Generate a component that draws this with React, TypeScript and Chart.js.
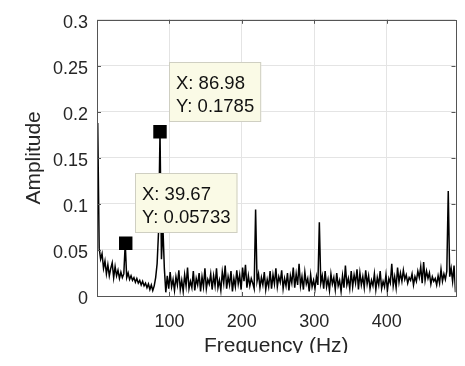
import React, { useEffect, useRef } from "react";
import { Chart, registerables } from "chart.js";

Chart.register(...registerables);

// Frequency grid: first bin and bin spacing (Hz)
const FREQ_START = 1;
const FREQ_STEP = 2;

// Spectrum amplitudes (one per 2 Hz bin, 1..495 Hz)
const AMPLITUDE: number[] = [
  0.188, 0.052, 0.04, 0.046, 0.03, 0.038, 0.024, 0.034, 0.022, 0.03,
  0.036, 0.02, 0.032, 0.022, 0.028, 0.019, 0.026, 0.02, 0.024, 0.05733,
  0.02, 0.025, 0.018, 0.022, 0.017, 0.02, 0.015, 0.019, 0.014, 0.017,
  0.012, 0.016, 0.011, 0.014, 0.009, 0.013, 0.007, 0.012, 0.006, 0.011,
  0.02, 0.035, 0.07, 0.1785, 0.04, 0.075, 0.03, 0.004, 0.022, 0.008,
  0.026, 0.01, 0.018, 0.006, 0.021, 0.012, 0.028, 0.007, 0.017, 0.005,
  0.023, 0.011, 0.031, 0.008, 0.016, 0.009, 0.027, 0.006, 0.019, 0.012,
  0.025, 0.005, 0.021, 0.01, 0.03, 0.008, 0.018, 0.013, 0.024, 0.007,
  0.022, 0.011, 0.03, 0.009, 0.017, 0.006, 0.026, 0.014, 0.033, 0.008,
  0.021, 0.012, 0.027, 0.005, 0.019, 0.01, 0.028, 0.013, 0.023, 0.007,
  0.031, 0.016, 0.034, 0.009, 0.022, 0.011, 0.019, 0.014, 0.008, 0.094,
  0.016, 0.024, 0.009, 0.02, 0.012, 0.026, 0.007, 0.018, 0.01, 0.027,
  0.008, 0.023, 0.013, 0.03, 0.01, 0.021, 0.015, 0.028, 0.008, 0.019,
  0.011, 0.025, 0.006, 0.022, 0.014, 0.031, 0.009, 0.024, 0.012, 0.035,
  0.011, 0.021, 0.007, 0.026, 0.013, 0.019, 0.005, 0.023, 0.01, 0.017,
  0.008, 0.021, 0.012, 0.08, 0.014, 0.022, 0.008, 0.027, 0.01, 0.018,
  0.006, 0.024, 0.013, 0.02, 0.007, 0.025, 0.011, 0.017, 0.005, 0.022,
  0.009, 0.033, 0.012, 0.019, 0.008, 0.027, 0.01, 0.023, 0.014, 0.029,
  0.007, 0.025, 0.012, 0.021, 0.009, 0.028, 0.013, 0.022, 0.008, 0.017,
  0.011, 0.024, 0.007, 0.02, 0.012, 0.027, 0.008, 0.016, 0.01, 0.023,
  0.006, 0.019, 0.014, 0.035, 0.011, 0.021, 0.009, 0.031, 0.015, 0.025,
  0.016, 0.028, 0.018, 0.023, 0.014, 0.02, 0.017, 0.024, 0.012, 0.021,
  0.016, 0.027, 0.02, 0.032, 0.014, 0.037, 0.017, 0.027, 0.019, 0.025,
  0.013, 0.021, 0.016, 0.019, 0.012, 0.022, 0.014, 0.029, 0.016, 0.024,
  0.018, 0.027, 0.114, 0.021, 0.03, 0.016, 0.033, 0.004,
];

// Data tips
const TIP_X: number[] = [86.98, 39.67];
const TIP_Y: number[] = [0.1785, 0.05733];
const TIP_LABEL_X: string[] = ["86.98", "39.67"];
const TIP_LABEL_Y: string[] = ["0.1785", "0.05733"];

const X_TICKS: number[] = [100, 200, 300, 400];
const X_MIN = 0;
const X_MAX = 495;
const Y_MIN = 0;
const Y_MAX = 0.3;
const Y_STEP = 0.05;

const X_TITLE = "Frequency (Hz)";
const Y_TITLE = "Amplitude";

const FONT = "'Liberation Sans', Arial, Helvetica, sans-serif";
const TEXT_COLOR = "#262626";

const decorPlugin = {
  id: "matlabDecor",
  afterDraw(chart: any) {
    const { ctx, chartArea } = chart;
    const xs = chart.scales.x;
    const ys = chart.scales.y;
    const { left, right, top, bottom } = chartArea;
    ctx.save();

    // Axes box
    ctx.strokeStyle = "#555555";
    ctx.lineWidth = 1;
    ctx.strokeRect(Math.round(left) + 0.5, Math.round(top) + 0.5, Math.round(right - left), Math.round(bottom - top));

    // Inward tick marks
    ctx.beginPath();
    const tl = 4;
    for (const v of X_TICKS) {
      const px = Math.round(xs.getPixelForValue(v)) + 0.5;
      ctx.moveTo(px, bottom);
      ctx.lineTo(px, bottom - tl);
      ctx.moveTo(px, top);
      ctx.lineTo(px, top + tl);
    }
    for (let v = Y_MIN + Y_STEP; v < Y_MAX - 1e-9; v += Y_STEP) {
      const py = Math.round(ys.getPixelForValue(v)) + 0.5;
      ctx.moveTo(left, py);
      ctx.lineTo(left + tl, py);
      ctx.moveTo(right, py);
      ctx.lineTo(right - tl, py);
    }
    ctx.stroke();

    // Data tip boxes
    ctx.font = `18.5px ${FONT}`;
    ctx.textBaseline = "middle";
    ctx.textAlign = "left";
    for (let i = 0; i < TIP_X.length; i++) {
      const px = xs.getPixelForValue(TIP_X[i]);
      const py = ys.getPixelForValue(TIP_Y[i]);
      const l1 = `X: ${TIP_LABEL_X[i]}`;
      const l2 = `Y: ${TIP_LABEL_Y[i]}`;
      const w = Math.max(ctx.measureText(l1).width, ctx.measureText(l2).width) + 14;
      const h = 60;
      const bx = Math.round(px + 9);
      const by = Math.round(py - 10 - h);
      ctx.fillStyle = "#fafae6";
      ctx.fillRect(bx, by, w, h);
      ctx.strokeStyle = "#cfcfc2";
      ctx.strokeRect(bx + 0.5, by + 0.5, w - 1, h - 1);
      ctx.fillStyle = "#111111";
      ctx.fillText(l1, bx + 7, by + 21.5);
      ctx.fillText(l2, bx + 7, by + 45);
    }

    // Axis titles
    ctx.fillStyle = TEXT_COLOR;
    ctx.font = `21px ${FONT}`;
    ctx.textAlign = "center";
    ctx.textBaseline = "alphabetic";
    ctx.fillText(X_TITLE, (left + right) / 2, 352);
    ctx.save();
    ctx.translate(40, (top + bottom) / 2);
    ctx.rotate(-Math.PI / 2);
    ctx.textBaseline = "alphabetic";
    ctx.fillText(Y_TITLE, 0, 0);
    ctx.restore();

    // Image is cropped just below the x title baseline
    ctx.fillStyle = "#ffffff";
    ctx.fillRect(0, 353, chart.width, chart.height - 353);
    ctx.restore();
  },
};

export default function App() {
  const ref = useRef<HTMLCanvasElement | null>(null);

  useEffect(() => {
    if (!ref.current) return;
    const lineData = AMPLITUDE.map((a, i) => ({ x: FREQ_START + FREQ_STEP * i, y: a }));
    const tipData = TIP_X.map((x, i) => ({ x, y: TIP_Y[i] }));
    const chart = new Chart(ref.current, {
      type: "line",
      data: {
        datasets: [
          {
            data: tipData,
            showLine: false,
            pointStyle: "rect",
            pointRadius: 9.5,
            pointBackgroundColor: "#000000",
            pointBorderColor: "#000000",
            pointBorderWidth: 0,
            order: 0,
          },
          {
            data: lineData,
            borderColor: "#000000",
            borderWidth: 1.5,
            pointRadius: 0,
            tension: 0,
            fill: false,
            order: 1,
          },
        ],
      },
      options: {
        responsive: false,
        animation: false,
        events: [],
        layout: { padding: { top: 6, right: 5, left: 0, bottom: 0 } },
        plugins: { legend: { display: false }, tooltip: { enabled: false } },
        scales: {
          x: {
            type: "linear",
            min: X_MIN,
            max: X_MAX,
            afterBuildTicks: (scale: any) => {
              scale.ticks = X_TICKS.map((v) => ({ value: v }));
            },
            afterFit: (scale: any) => {
              scale.height = 70;
            },
            grid: { color: "#e4e4e4", drawTicks: false },
            border: { display: false },
            ticks: {
              padding: 15,
              maxRotation: 0,
              color: TEXT_COLOR,
              font: { family: FONT, size: 18 },
              callback: (v: any) => String(v),
            },
          },
          y: {
            min: Y_MIN,
            max: Y_MAX,
            afterFit: (scale: any) => {
              scale.width = 97;
            },
            grid: { color: "#e4e4e4", drawTicks: false },
            border: { display: false },
            ticks: {
              stepSize: Y_STEP,
              padding: 9,
              labelOffset: 3,
              color: TEXT_COLOR,
              font: { family: FONT, size: 18 },
              callback: (v: any) => String(parseFloat(Number(v).toFixed(2))),
            },
          },
        },
      },
      plugins: [decorPlugin],
    } as any);
    return () => chart.destroy();
  }, []);

  return (
    <div style={{ position: "fixed", left: 0, top: 0, width: 465, height: 366, background: "#fff" }}>
      <canvas ref={ref} width={465} height={366} style={{ display: "block", width: 465, height: 366 }} />
    </div>
  );
}
